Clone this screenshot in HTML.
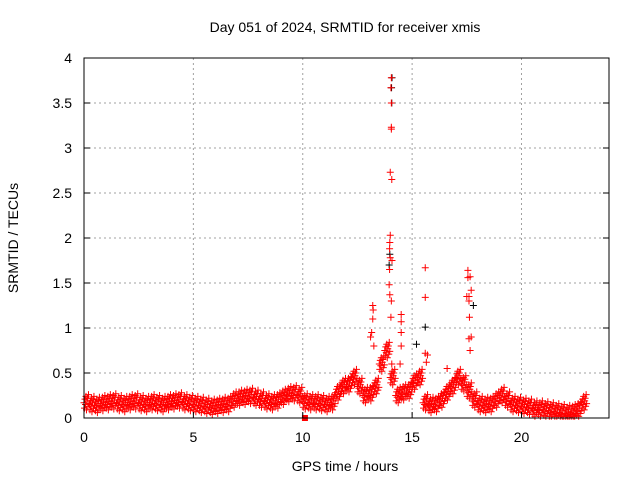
<!DOCTYPE html>
<html><head><meta charset="utf-8"><style>
body{margin:0;background:#fff;}
svg{display:block;font-family:"Liberation Sans",sans-serif;}
</style></head><body>
<svg id="chart" width="640" height="480">
<text x="345" y="32" font-size="14" text-anchor="middle">Day 051 of 2024, SRMTID for receiver xmis</text>
<text x="345" y="471" font-size="14" text-anchor="middle">GPS time / hours</text>
<text transform="translate(18,238) rotate(-90)" font-size="14" text-anchor="middle">SRMTID / TECUs</text>
<g id="grid"></g><g id="marks"></g>
<rect x="84" y="58" width="525" height="360" fill="none" stroke="#000" stroke-width="1"/>
<g id="ticks"></g>
</svg>
<script>
const xTicks=[0,5,10,15,20];
const yTicks=[0,0.5,1,1.5,2,2.5,3,3.5,4];
const yTickLabels=["0","0.5","1","1.5","2","2.5","3","3.5","4"];
const baseStart=0, baseStep=0.25;
const baseline=[0.17,0.15,0.14,0.16,0.17,0.18,0.16,0.15,0.17,0.18,0.16,0.15,0.17,0.16,0.15,0.17,0.18,0.19,0.17,0.16,0.15,0.14,0.13,0.12,0.13,0.14,0.15,0.2,0.22,0.23,0.24,0.22,0.2,0.18,0.17,0.19,0.23,0.26,0.27,0.25,0.18,0.17,0.17,0.16,0.15,0.17,0.28,0.35,0.37,0.45,0.35,0.25,0.27,0.35,0.6,0.75,0.45,0.25,0.28,0.3,0.4,0.45,0.17,0.14,0.15,0.2,0.28,0.35,0.45,0.38,0.3,0.2,0.15,0.14,0.15,0.2,0.25,0.2,0.15,0.14,0.13,0.12,0.1,0.1,0.09,0.08,0.07,0.06,0.05,0.06,0.09,0.17];
const jitter=[0,-0.06,0.04,-0.02,0.07,-0.08,0.02,0.05,-0.04,0.09,-0.01];
const spikeX=[14.05,14.03,14.05,14.05,14.05,14.0,14.07,14.0,13.98,13.97,14.0,14.08,13.97,13.95,13.98,14.05,14.03,14.07,14.5,14.5,14.5,14.5,14.45,15.6,15.6,15.6,16.6,17.55,17.55,17.65,17.5,17.6,17.7,17.6,17.62,17.7,17.6,17.65,13.2,13.22,13.2,13.15,13.1,13.25,15.7,15.65];
const spikeY=[3.78,3.67,3.5,3.23,3.21,2.73,2.65,2.03,1.95,1.88,1.78,1.75,1.65,1.48,1.37,1.3,1.12,0.6,1.15,1.07,0.95,0.8,0.6,1.67,1.34,0.72,0.55,1.64,1.56,1.57,1.35,1.35,1.42,1.3,1.12,0.9,0.88,0.75,1.25,1.2,1.1,0.95,0.9,0.8,0.7,0.62];
const blackX=[14.08,14.06,14.07,13.95,15.6,15.2,17.8,13.98];
const blackY=[3.78,3.67,3.5,1.7,1.01,0.82,1.25,1.82];
const squareX=[10.1], squareY=[0];
const X=h=>84+h*525/24, Y=v=>418-v*90;
const NS="http://www.w3.org/2000/svg";
const grid=document.getElementById('grid'),marks=document.getElementById('marks'),ticks=document.getElementById('ticks');
function mk(tag,attrs,parent){const e=document.createElementNS(NS,tag);for(const k in attrs)e.setAttribute(k,attrs[k]);parent.appendChild(e);return e;}
xTicks.forEach(t=>{
  if(t>0){const g=mk('line',{x1:X(t),x2:X(t),y1:58,y2:418,stroke:'#a0a0a0','stroke-dasharray':'2,3'},grid);
  
  }
  mk('line',{x1:X(t),x2:X(t),y1:418,y2:412,stroke:'#000'},ticks);
  const l=mk('text',{x:X(t),y:442,'font-size':14,'text-anchor':'middle'},ticks);l.textContent=t;
  
  
});
yTicks.forEach((t,i)=>{
  if(t>0&&t<4){const g=mk('line',{x1:84,x2:609,y1:Y(t),y2:Y(t),stroke:'#a0a0a0','stroke-dasharray':'2,3'},grid);
  
  }
  mk('line',{x1:84,x2:90,y1:Y(t),y2:Y(t),stroke:'#000'},ticks);
  mk('line',{x1:609,x2:603,y1:Y(t),y2:Y(t),stroke:'#000'},ticks);
  const l=mk('text',{x:72,y:Y(t)+5,'font-size':14,'text-anchor':'end'},ticks);l.textContent=yTickLabels[i];
  
  
});
function cross(h,v,col){const x=X(h),y=Y(v);
  const p=mk('path',{d:`M${x-3.5},${y}h7M${x},${y-3.5}v7`,stroke:col,'stroke-width':1,fill:'none'},marks);
  
  }
blackX.forEach((h,i)=>cross(h,blackY[i],'#000'));
baseline.forEach((v,i)=>{
  jitter.forEach((j,k)=>{const h=baseStart+i*baseStep+k*baseStep/jitter.length;cross(h,Math.max(0.02,v+j),'#f00');});
});
spikeX.forEach((h,i)=>cross(h,spikeY[i],'#f00'));
squareX.forEach((h,i)=>{const r=mk('rect',{x:X(h)-3,y:Y(squareY[i])-3,width:6,height:6,fill:'#f00'},marks);
  
  });
</script>
</body></html>
